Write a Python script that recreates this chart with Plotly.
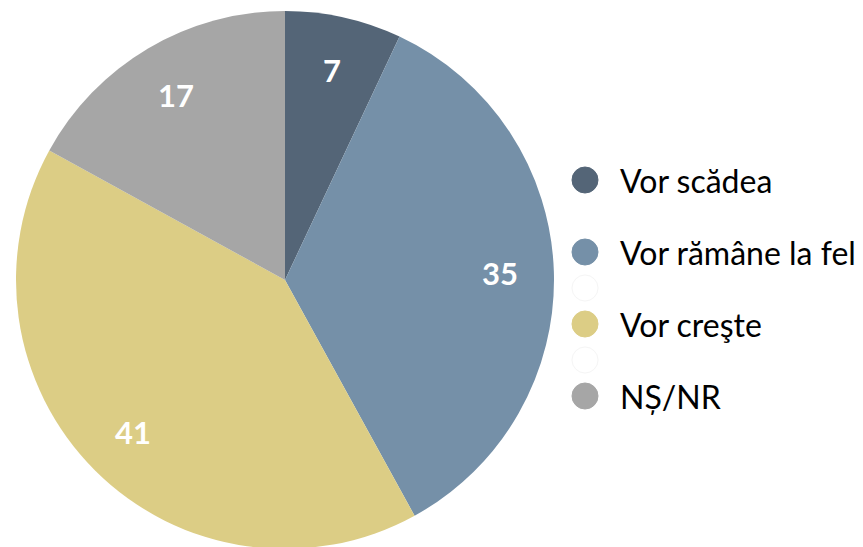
import math
import plotly.graph_objects as go

labels = ["Vor scădea", "Vor rămâne la fel", "Vor creşte", "NȘ/NR"]
values = [7, 35, 41, 17]
colors = ["#546577", "#7590a8", "#dccd85", "#a6a6a6"]

# legend rows: real entries plus the faint empty placeholders seen in the original
legend_rows = ["Vor scădea", None, "Vor rămâne la fel", "", "Vor creşte", "", "NȘ/NR"]

W, H = 863, 547
MT, MB = 3, 6
PH = H - MT - MB
FONT = "Lato, Open Sans, sans-serif"


def px_to_paper(x, y):
    return x / W, 1 - (y - MT) / PH


fig = go.Figure()
fig.add_trace(
    go.Pie(
        labels=labels,
        values=values,
        sort=False,
        direction="clockwise",
        rotation=0,
        marker=dict(colors=colors, line=dict(width=0)),
        textinfo="none",
        domain=dict(x=[0, 554 / W], y=[0, 1]),
        showlegend=False,
        hoverinfo="label+value",
    )
)

# value labels placed at 0.8 of the radius, at the middle of each slice
cx, cy, r_lab = 277, 272, 215
annotations = []
total = sum(values)
cum = 0
for v in values:
    ang = (cum + v / 2) / total * 2 * math.pi
    cum += v
    x, y = px_to_paper(cx + r_lab * math.sin(ang), cy - r_lab * math.cos(ang))
    annotations.append(
        dict(
            text=str(v), xref="paper", yref="paper", x=x, y=y,
            xanchor="center", yanchor="middle", showarrow=False,
            font=dict(family=FONT, size=31, color="white", weight="bold"),
        )
    )

# hand-made legend with large round markers
shapes = []
y0 = 172
for i, name in enumerate(legend_rows):
    if name is None:
        continue
    yc = y0 + i * 36
    col = colors[labels.index(name)] if name else "rgba(0,0,0,0)"
    line_col = col if name else "#f5f5f5"
    xa, ya = px_to_paper(577 - 13, yc + 13)
    xb, yb = px_to_paper(577 + 13, yc - 13)
    shapes.append(
        dict(
            type="circle", xref="paper", yref="paper",
            x0=xa, x1=xb, y0=ya, y1=yb,
            fillcolor=col, line=dict(color=line_col, width=1),
        )
    )
    if name:
        tx, ty = px_to_paper(610, yc)
        annotations.append(
            dict(
                text=name, xref="paper", yref="paper", x=tx, y=ty,
                xanchor="left", yanchor="middle", showarrow=False,
                font=dict(family=FONT, size=32, color="#000000"),
            )
        )

fig.update_layout(
    width=W,
    height=H,
    margin=dict(l=0, r=0, t=MT, b=MB),
    paper_bgcolor="white",
    plot_bgcolor="white",
    shapes=shapes,
    annotations=annotations,
    showlegend=False,
)

fig.write_html("out.html")
